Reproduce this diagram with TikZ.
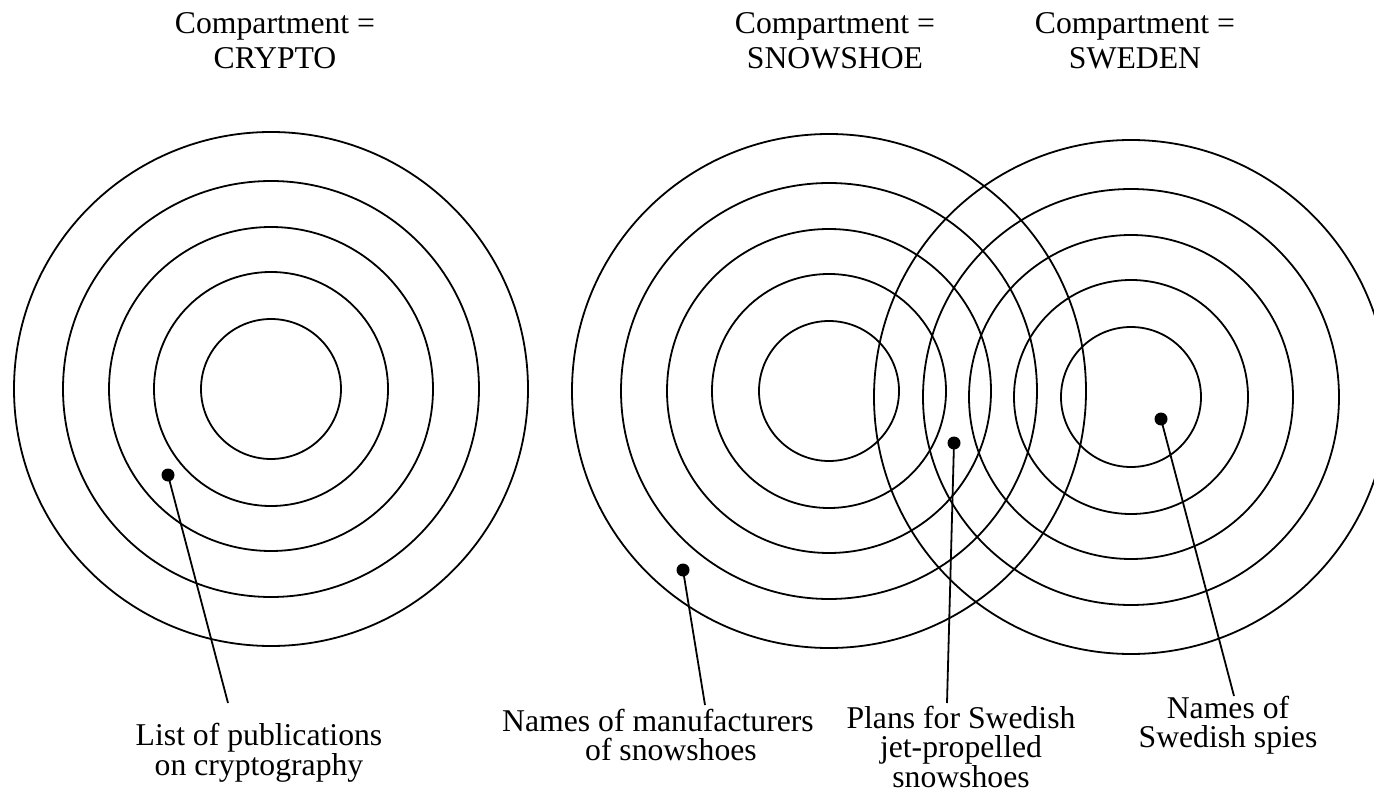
\documentclass[tikz,border=0pt]{standalone}
\usepackage{fontspec}
\setmainfont{Liberation Serif}
\begin{document}
\begin{tikzpicture}[x=1pt,y=-1pt,
  ring/.style={line width=1.8pt},
  dotc/.style={circle,fill=black,inner sep=0pt,minimum size=13pt},
  leader/.style={line width=1.8pt},
  lbl/.style={align=center,inner sep=0pt,anchor=base,font=\fontsize{31.7}{28.5}\selectfont},
  head/.style={align=center,inner sep=0pt,anchor=base,font=\fontsize{31.7}{35.7}\selectfont}]
\useasboundingbox (0,0) rectangle (1374,794);
% circle sets
\foreach \r in {70,117,162,208,257} {
  \draw[ring] (271,389) circle[radius=\r];
  \draw[ring] (829,391) circle[radius=\r];
  \draw[ring] (1131,397) circle[radius=\r];
}
% headings (anchor = baseline of last line)
\node[head] (hA) at (275,69) {Compartment =\\CRYPTO};
\node[head] (hB) at (835,69) {Compartment =\\SNOWSHOE};
\node[head] (hC) at (1135,69) {Compartment =\\SWEDEN};
% dots
\node[dotc] (dA) at (168,475) {};
\node[dotc] (dB) at (683,570) {};
\node[dotc] (dC) at (954,443) {};
\node[dotc] (dD) at (1161,419) {};
% leader ends
\coordinate (eA) at (228,703);
\coordinate (eB) at (705,705);
\coordinate (eC) at (947,703);
\coordinate (eD) at (1234,696);
\draw[leader] (dA.center) -- (eA);
\draw[leader] (dB.center) -- (eB);
\draw[leader] (dC.center) -- (eC);
\draw[leader] (dD.center) -- (eD);
% labels (anchor = baseline of last line)
\node[lbl] (lA) at (259,775) {List of publications\\on cryptography};
\node[lbl] (lB) at (658,760) {Names of manufacturers\\\hspace*{26pt}of snowshoes};
\node[lbl] (lC) at (961,787) {Plans for Swedish\\jet-propelled\\snowshoes};
\node[lbl] (lD) at (1228,747) {Names of\\Swedish spies};
\end{tikzpicture}
\end{document}
